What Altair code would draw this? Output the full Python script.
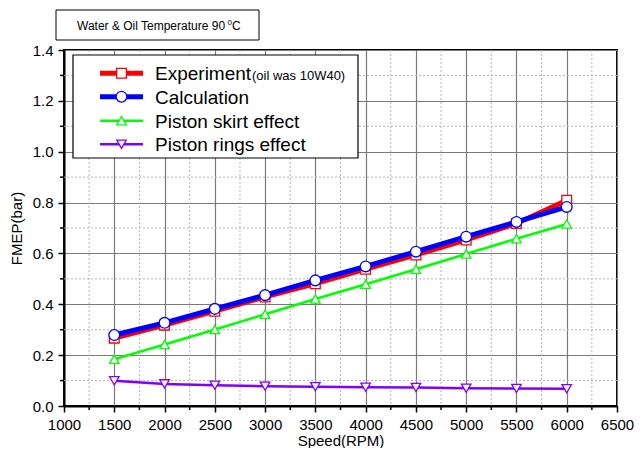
import altair as alt
import pandas as pd

# ---- data ----
speed = [1500, 2000, 2500, 3000, 3500, 4000, 4500, 5000, 5500, 6000]
experiment = [0.267, 0.318, 0.373, 0.429, 0.481, 0.538, 0.594, 0.653, 0.718, 0.809]
calculation = [0.279, 0.327, 0.382, 0.436, 0.494, 0.549, 0.607, 0.666, 0.724, 0.783]
skirt = [0.184, 0.242, 0.301, 0.361, 0.421, 0.479, 0.538, 0.598, 0.658, 0.716]
rings = [0.099, 0.087, 0.082, 0.078, 0.076, 0.074, 0.073, 0.070, 0.069, 0.068]

series_names = ["Experiment", "Calculation", "Piston skirt effect", "Piston rings effect"]
series_values = [experiment, calculation, skirt, rings]
series_colors = ["#ff0000", "#0000ff", "#00ff00", "#8000ff"]
series_shapes = ["square", "circle", "triangle-up", "triangle-down"]
series_widths = [5, 5, 2.5, 2.5]
marker_sizes = [95, 115, 90, 90]

x_major = [1000, 1500, 2000, 2500, 3000, 3500, 4000, 4500, 5000, 5500, 6000, 6500]
x_minor = [1250, 1750, 2250, 2750, 3250, 3750, 4250, 4750, 5250, 5750, 6250]
y_major = [0.0, 0.2, 0.4, 0.6, 0.8, 1.0, 1.2, 1.4]
y_minor = [0.1, 0.3, 0.5, 0.7, 0.9, 1.1, 1.3]

title_text = "Water & Oil Temperature 90"
legend_note = "(oil was 10W40)"

FONT = "Arial"
W, H = 553, 356

xs = alt.Scale(domain=[1000, 6500], nice=False, zero=False)
ys = alt.Scale(domain=[0, 1.4], nice=False, zero=True)

x_axis = alt.Axis(
    values=x_major, title="Speed(RPM)", grid=True, format="d",
    gridColor="#7a7a7a", gridWidth=1.2, tickSize=6, tickWidth=1.5,
    tickColor="black", domainColor="black", domainWidth=2,
    labelFontSize=15, labelFont=FONT, labelColor="black", labelPadding=5,
    titleFontSize=15, titleFont=FONT, titleFontWeight="normal",
    titleColor="black", titlePadding=1, labelFlush=False, labelOverlap=False)
y_axis = alt.Axis(
    values=y_major, title="FMEP(bar)", grid=True, format=".1f",
    gridColor="#7a7a7a", gridWidth=1.2, tickSize=6, tickWidth=1.5,
    tickColor="black", domainColor="black", domainWidth=2,
    labelFontSize=15, labelFont=FONT, labelColor="black", labelPadding=5,
    titleFontSize=15, titleFont=FONT, titleFontWeight="normal",
    titleColor="black", titlePadding=8, labelFlush=False, labelOverlap=False)

one = pd.DataFrame({"a": [0]})


def X(field):
    return alt.X(field, scale=xs, axis=x_axis, title="Speed(RPM)")


def Y(field):
    return alt.Y(field, scale=ys, axis=y_axis, title="FMEP(bar)")


# minor dotted grid
minor_x_grid = alt.Chart(pd.DataFrame({"v": x_minor})).mark_rule(
    color="#b5b5b5", strokeDash=[2, 2], strokeWidth=1
).encode(x=X("v:Q"))
minor_y_grid = alt.Chart(pd.DataFrame({"v": y_minor})).mark_rule(
    color="#b5b5b5", strokeDash=[2, 2], strokeWidth=1
).encode(y=Y("v:Q"))

# minor ticks
minor_x_ticks = alt.Chart(pd.DataFrame({"v": x_minor})).mark_rule(
    color="black", strokeWidth=1.5
).encode(x=X("v:Q"), y=alt.value(H), y2=alt.value(H + 4))
minor_y_ticks = alt.Chart(pd.DataFrame({"v": y_minor})).mark_rule(
    color="black", strokeWidth=1.5
).encode(y=Y("v:Q"), x=alt.value(-4), x2=alt.value(0))

layers = [minor_x_grid, minor_y_grid, minor_x_ticks, minor_y_ticks]

# data series
for name, vals, col, shp, lw, ms in zip(series_names, series_values, series_colors,
                                        series_shapes, series_widths, marker_sizes):
    df = pd.DataFrame({"speed": speed, "fmep": vals})
    base = alt.Chart(df).encode(x=X("speed:Q"), y=Y("fmep:Q"))
    layers.append(base.mark_line(color=col, strokeWidth=lw))
    layers.append(base.mark_point(shape=shp, size=ms, filled=True, fill="white",
                                  stroke=col, strokeWidth=1.3, opacity=1))

# title box
layers.append(alt.Chart(one).mark_rect(fill="white", stroke="black", strokeWidth=1).encode(
    x=alt.value(-8), x2=alt.value(195), y=alt.value(-40), y2=alt.value(-10)))
layers.append(alt.Chart(one).mark_text(align="left", baseline="alphabetic", fontSize=12,
                                       font=FONT, color="black").encode(
    x=alt.value(13), y=alt.value(-20), text=alt.value(title_text)))
layers.append(alt.Chart(one).mark_text(align="left", baseline="alphabetic", fontSize=8,
                                       font=FONT, color="black").encode(
    x=alt.value(163.5), y=alt.value(-25), text=alt.value("0")))
layers.append(alt.Chart(one).mark_text(align="left", baseline="alphabetic", fontSize=12,
                                       font=FONT, color="black").encode(
    x=alt.value(168), y=alt.value(-20), text=alt.value("C")))

# legend box
layers.append(alt.Chart(one).mark_rect(fill="white", stroke="black", strokeWidth=1.2).encode(
    x=alt.value(9), x2=alt.value(294), y=alt.value(5), y2=alt.value(108)))
row_y = [23.3, 46.7, 70.7, 94.3]
for name, col, shp, lw, ms, ry in zip(series_names, series_colors, series_shapes,
                                      series_widths, marker_sizes, row_y):
    layers.append(alt.Chart(one).mark_rule(color=col, strokeWidth=lw).encode(
        x=alt.value(36), x2=alt.value(79), y=alt.value(ry)))
    layers.append(alt.Chart(one).mark_point(shape=shp, size=ms, filled=True, fill="white",
                                            stroke=col, strokeWidth=1.3, opacity=1).encode(
        x=alt.value(57.5), y=alt.value(ry)))
    layers.append(alt.Chart(one).mark_text(align="left", baseline="middle", fontSize=19,
                                           font=FONT, color="black").encode(
        x=alt.value(91), y=alt.value(ry + 1), text=alt.value(name)))
layers.append(alt.Chart(one).mark_text(align="left", baseline="middle", fontSize=13,
                                       font=FONT, color="black").encode(
    x=alt.value(188), y=alt.value(row_y[0] + 3), text=alt.value(legend_note)))

chart = alt.layer(*layers).properties(
    width=W, height=H,
    autosize=alt.AutoSizeParams(type="none"),
    padding={"left": 56, "top": 42, "right": 17, "bottom": 42},
    background="white",
).configure_view(stroke="black", strokeWidth=2)

chart.save("out.html", embed_options={"renderer": "svg", "actions": False})
